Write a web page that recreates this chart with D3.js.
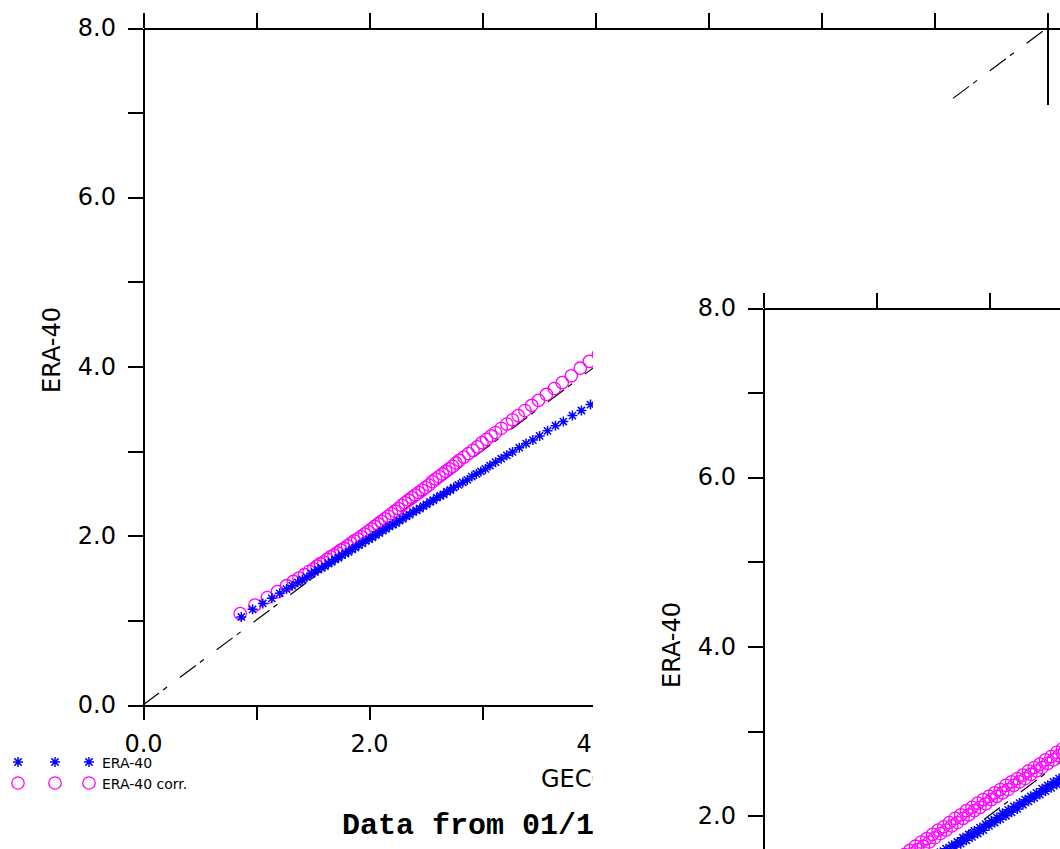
<!DOCTYPE html>
<html><head><meta charset="utf-8">
<script src="https://cdn.jsdelivr.net/npm/d3@7"></script>
<style>body{margin:0;background:#fff}svg{display:block}</style>
</head><body>
<svg id="c" width="1060" height="849"></svg>
<script>
// ---------- data ----------
const tickValues = [0, 1, 2, 3, 4, 5, 6, 7, 8];
const tickLabels = ["0.0", "", "2.0", "", "4.0", "", "6.0", "", "8.0"];
const seriesNames = ["ERA-40", "ERA-40 corr."];
const yTitle = "ERA-40";
const xTitle = "GECCO";
const mainTitle = "Data from 01/1958 to 12/2001";

// Panel 1 : ERA-40 corr. (magenta circles)
const p1CorrX = [0.86,0.99,1.10,1.19,1.27,1.33,1.38,1.43,1.47,1.51,1.54,1.57,1.60,1.63,1.66,1.69,1.72,1.75,1.78,1.81,1.84,1.87,1.90,1.93,1.96,1.99,2.02,2.05,2.08,2.11,2.14,2.17,2.20,2.23,2.26,2.29,2.32,2.35,2.38,2.41,2.44,2.47,2.50,2.53,2.56,2.59,2.62,2.65,2.68,2.71,2.74,2.77,2.80,2.84,2.88,2.92,2.96,3.00,3.04,3.08,3.12,3.17,3.22,3.27,3.32,3.38,3.44,3.50,3.57,3.64,3.71,3.79,3.87,3.95,4.03];
const p1CorrY = [1.08,1.18,1.27,1.34,1.41,1.46,1.50,1.54,1.58,1.61,1.64,1.67,1.69,1.72,1.75,1.77,1.80,1.83,1.85,1.88,1.91,1.94,1.96,1.99,2.02,2.05,2.08,2.11,2.14,2.17,2.20,2.23,2.26,2.29,2.32,2.36,2.39,2.42,2.45,2.48,2.51,2.54,2.57,2.60,2.64,2.67,2.70,2.73,2.76,2.79,2.82,2.86,2.89,2.93,2.97,3.01,3.05,3.10,3.14,3.18,3.22,3.27,3.32,3.37,3.42,3.48,3.54,3.60,3.67,3.74,3.81,3.89,3.98,4.06,4.14];
// Panel 1 : ERA-40 (blue asterisks)
const p1RawX = [0.87,0.97,1.06,1.14,1.21,1.27,1.32,1.37,1.41,1.45,1.49,1.52,1.55,1.58,1.61,1.64,1.67,1.70,1.73,1.76,1.79,1.82,1.85,1.88,1.91,1.94,1.97,2.00,2.03,2.06,2.09,2.12,2.15,2.18,2.21,2.24,2.27,2.30,2.33,2.36,2.39,2.42,2.45,2.48,2.51,2.54,2.57,2.60,2.63,2.66,2.69,2.72,2.75,2.79,2.83,2.87,2.91,2.95,2.99,3.03,3.07,3.12,3.17,3.22,3.27,3.33,3.39,3.45,3.51,3.58,3.65,3.72,3.80,3.88,3.96,4.04];
const p1RawY = [1.04,1.13,1.20,1.26,1.32,1.37,1.41,1.45,1.48,1.51,1.55,1.57,1.60,1.62,1.64,1.67,1.69,1.72,1.74,1.77,1.79,1.81,1.84,1.86,1.89,1.91,1.94,1.96,1.98,2.01,2.03,2.06,2.08,2.11,2.13,2.15,2.18,2.20,2.23,2.25,2.28,2.30,2.32,2.35,2.37,2.40,2.42,2.45,2.47,2.49,2.52,2.54,2.57,2.60,2.63,2.66,2.70,2.73,2.76,2.79,2.83,2.87,2.91,2.95,2.99,3.04,3.09,3.13,3.18,3.24,3.30,3.35,3.42,3.48,3.55,3.61];

// Panel 2 : ERA-40 corr. (magenta circles)
const p2CorrX = [1.20,1.22,1.25,1.27,1.30,1.32,1.35,1.37,1.40,1.42,1.45,1.47,1.50,1.52,1.55,1.57,1.60,1.62,1.65,1.67,1.70,1.72,1.75,1.77,1.80,1.82,1.85,1.87,1.90,1.92,1.95,1.97,2.00,2.02,2.05,2.07,2.10,2.12,2.15,2.17,2.20,2.22,2.25,2.27,2.30,2.32,2.35,2.37,2.40,2.42,2.45,2.47,2.50,2.52,2.55,2.57,2.60,2.62,2.65,2.67,2.70,2.72,2.75,2.77,2.80];
const p2CorrY = [1.49,1.45,1.54,1.50,1.59,1.55,1.64,1.60,1.69,1.64,1.73,1.69,1.78,1.74,1.83,1.79,1.87,1.83,1.92,1.88,1.97,1.92,2.01,1.97,2.06,2.01,2.10,2.06,2.15,2.10,2.19,2.14,2.23,2.19,2.27,2.23,2.31,2.27,2.36,2.31,2.40,2.36,2.44,2.40,2.48,2.44,2.53,2.49,2.57,2.53,2.61,2.57,2.66,2.62,2.70,2.66,2.75,2.71,2.79,2.76,2.84,2.80,2.89,2.85,2.94];
// Panel 2 : ERA-40 (blue asterisks)
const p2RawX = [1.27,1.30,1.32,1.35,1.37,1.40,1.42,1.45,1.47,1.50,1.52,1.55,1.57,1.60,1.62,1.65,1.67,1.70,1.72,1.75,1.77,1.80,1.82,1.85,1.87,1.90,1.92,1.95,1.97,2.00,2.02,2.05,2.07,2.10,2.12,2.15,2.17,2.20,2.22,2.25,2.27,2.30,2.32,2.35,2.37,2.40,2.42,2.45,2.47,2.50,2.52,2.55,2.57,2.60,2.62,2.65,2.67,2.70,2.72,2.75,2.77,2.80];
const p2RawY = [1.32,1.30,1.36,1.34,1.40,1.38,1.44,1.42,1.49,1.46,1.53,1.50,1.57,1.54,1.61,1.59,1.65,1.63,1.69,1.67,1.74,1.71,1.78,1.75,1.82,1.79,1.86,1.83,1.90,1.88,1.94,1.92,1.98,1.96,2.03,2.00,2.07,2.04,2.11,2.08,2.15,2.13,2.19,2.17,2.23,2.21,2.27,2.25,2.32,2.29,2.36,2.33,2.40,2.37,2.44,2.42,2.48,2.46,2.52,2.50,2.57,2.54];

// ---------- layout / style ----------
const W = 1060, H = 849;
const PW = 904, PH = 677;
const BLUE = "#0000ff", MAGENTA = "#ff00ff";
const FONT = "DejaVu Sans";
const svg = d3.select("#c");

const zip = (xs, ys) => xs.map((v, i) => [v, ys[i]]);
const starPath = s => `M${-s},0H${s}M0,${-s}V${s}M${-s*0.72},${-s*0.72}L${s*0.72},${s*0.72}M${-s*0.72},${s*0.72}L${s*0.72},${-s*0.72}`;

function drawPanel(opt) {
  const x = d3.scaleLinear().domain([0, 8]).range([0, PW]);
  const y = d3.scaleLinear().domain([0, 8]).range([PH, 0]);
  const g = svg.append("g").attr("transform", `translate(${opt.left},${opt.top})`);

  // 1:1 reference line
  g.append("line")
    .attr("x1", x(0)).attr("y1", y(0)).attr("x2", x(8)).attr("y2", y(8))
    .attr("stroke", "#000").attr("stroke-width", 1.2)
    .attr("stroke-dasharray", "20,5,5,16");

  g.append("g").selectAll("circle").data(zip(opt.corrX, opt.corrY)).join("circle")
    .attr("cx", d => x(d[0])).attr("cy", d => y(d[1])).attr("r", 6.2)
    .attr("fill", "none").attr("stroke", MAGENTA).attr("stroke-width", 1.3);

  g.append("g").selectAll("path").data(zip(opt.rawX, opt.rawY)).join("path")
    .attr("transform", d => `translate(${x(d[0])},${y(d[1])})`)
    .attr("d", starPath(5))
    .attr("stroke", BLUE).attr("stroke-width", 1.5).attr("fill", "none");

  const fmt = d => tickLabels[tickValues.indexOf(d)];
  const styleAxis = sel => {
    sel.selectAll(".domain").attr("stroke-width", 2).attr("shape-rendering", "crispEdges");
    sel.selectAll(".tick line").attr("stroke-width", 2).attr("shape-rendering", "crispEdges");
    sel.selectAll("text").attr("font-family", FONT).attr("font-size", 24).attr("fill", "#000");
  };
  g.append("g").call(d3.axisLeft(y).tickValues(tickValues).tickFormat(fmt)
      .tickSize(15).tickSizeOuter(0).tickPadding(12)).call(styleAxis);
  g.append("g").attr("transform", `translate(0,${PH})`)
    .call(d3.axisBottom(x).tickValues(tickValues).tickFormat(fmt)
      .tickSize(15).tickSizeOuter(0).tickPadding(15)).call(styleAxis);
  g.append("g").call(d3.axisTop(x).tickValues(tickValues).tickFormat("")
      .tickSize(15).tickSizeOuter(0)).call(styleAxis);
  g.append("g").attr("transform", `translate(${PW},0)`)
    .call(d3.axisRight(y).tickValues(tickValues).tickFormat("")
      .tickSize(15).tickSizeOuter(0)).call(styleAxis);

  g.append("text")
    .attr("transform", `translate(-83,${opt.yTitleY}) rotate(-90)`)
    .attr("text-anchor", "middle").attr("font-family", FONT).attr("font-size", 24)
    .text(yTitle);

  if (opt.withBottom) {
    g.append("text").attr("x", 398).attr("y", PH + 82)
      .attr("font-family", FONT).attr("font-size", 24).text(xTitle);
    g.append("text").attr("x", 199).attr("y", PH + 129)
      .attr("font-family", "'Courier New', Courier, 'Nimbus Mono PS', FreeMono, 'Liberation Mono', monospace")
      .attr("font-weight", "bold")
      .attr("font-size", 30).text(mainTitle);
  }
}

// Panel 1 (back)
drawPanel({left: 143, top: 28, corrX: p1CorrX, corrY: p1CorrY, rawX: p1RawX, rawY: p1RawY,
           yTitleY: 322, withBottom: true});

// Legend of panel 1
const legend = svg.append("g");
[0, 1].forEach(i => {
  const row = legend.append("g").attr("transform", `translate(0,${762 + i * 21})`);
  [18, 55, 89].forEach(mx => {
    if (i === 0) {
      row.append("path").attr("transform", `translate(${mx},0)`).attr("d", starPath(5))
        .attr("stroke", BLUE).attr("stroke-width", 1.5).attr("fill", "none");
    } else {
      row.append("circle").attr("cx", mx).attr("cy", 0).attr("r", 6.2)
        .attr("fill", "none").attr("stroke", MAGENTA).attr("stroke-width", 1.3);
    }
  });
  row.append("text").attr("x", 102).attr("y", 6).attr("font-family", FONT)
    .attr("font-size", 14).text(seriesNames[i]);
});

// Panel 2 sits on its own white sheet over panel 1
svg.append("rect").attr("x", 593).attr("y", 105).attr("width", W - 593).attr("height", H - 105)
  .attr("fill", "#fff");

drawPanel({left: 763, top: 308, corrX: p2CorrX, corrY: p2CorrY, rawX: p2RawX, rawY: p2RawY,
           yTitleY: 337, withBottom: false});
</script>
</body></html>
